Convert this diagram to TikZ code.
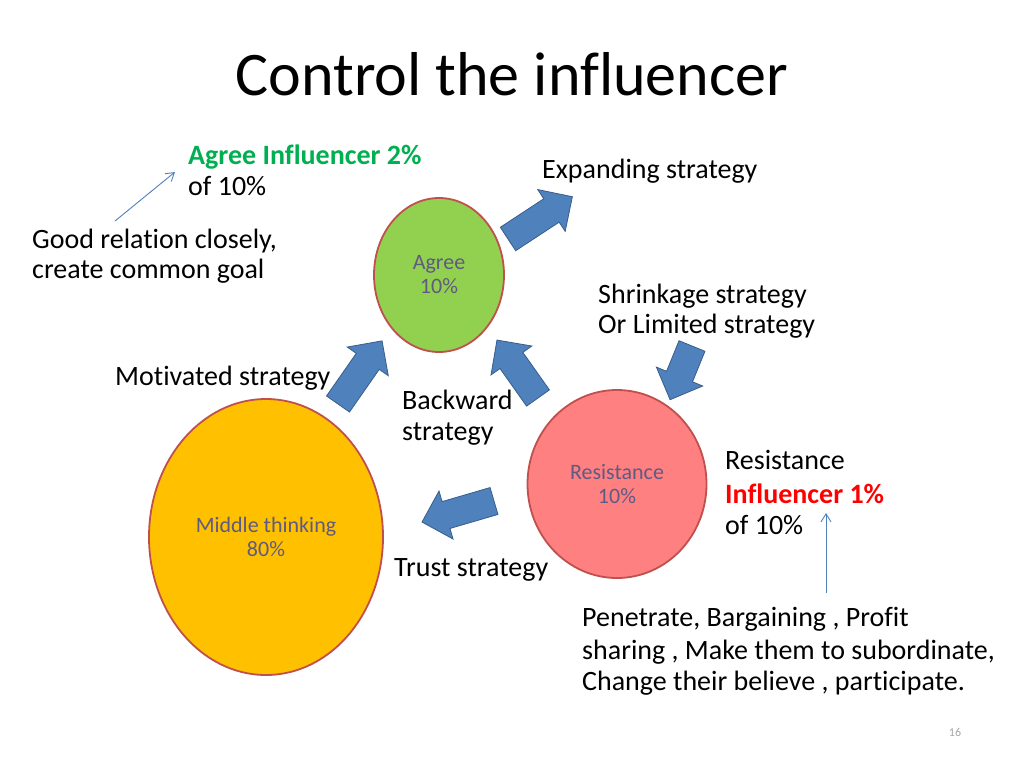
\documentclass[tikz,border=0pt]{standalone}
\usepackage{fontspec}
\setmainfont{Carlito}[Ligatures=NoCommon]
\usetikzlibrary{arrows.meta,shapes.geometric}
\definecolor{agreegreen}{HTML}{92D050}
\definecolor{resred}{HTML}{FF8080}
\definecolor{midorange}{HTML}{FFC000}
\definecolor{circborder}{HTML}{C0504D}
\definecolor{arrowblue}{HTML}{4F81BD}
\definecolor{arrowedge}{HTML}{385D8A}
\definecolor{labelgreen}{HTML}{00B050}
\definecolor{labelred}{HTML}{FF0000}
\definecolor{innertext}{RGB}{95,90,130}
\newcommand{\fatarrow}[3]{%
  \begin{scope}[shift={(#1)},rotate=#2]
    \filldraw[fatarrowstyle] (0,-14) -- (#3-25,-14) -- (#3-25,-25) -- (#3,0)
      -- (#3-25,25) -- (#3-25,14) -- (0,14) -- cycle;
  \end{scope}}
\begin{document}
\begin{tikzpicture}[x=1pt,y=-1pt,
  circ/.style={ellipse, draw=circborder, line width=1.8pt, inner sep=0pt,
    align=center, text=innertext, font=\fontsize{22}{24}\selectfont},
  body/.style={anchor=base west, inner sep=0pt, font=\fontsize{28}{30}\selectfont},
  fatarrowstyle/.style={fill=arrowblue, draw=arrowedge, line width=0.8pt, line join=miter},
  thinarrow/.style={draw=arrowblue, line width=0.9pt, -{Straight Barb[length=8pt,width=10pt]}}]
\useasboundingbox (0,0) rectangle (1024,768);
\fill[white] (0,0) rectangle (1024,768);

% title
\node[anchor=base, inner sep=0pt, font=\fontsize{62}{70}\selectfont] (title) at (512,95) {Control the influencer};

% circles
\node[circ, fill=agreegreen, minimum width=130pt, minimum height=154pt] (agree) at (439,275) {Agree\\10\%};
\node[circ, fill=resred, minimum width=179pt, minimum height=188pt] (resist) at (617,484) {Resistance\\10\%};
\node[circ, fill=midorange, minimum width=234pt, minimum height=276pt] (middle) at (266,537) {Middle thinking\\80\%};

% fat arrows
\fatarrow{338,404}{55.1}{77}
\fatarrow{538,398}{125.3}{71}
\fatarrow{692,346}{-112.2}{58}
\fatarrow{494,501}{196.3}{75}
\fatarrow{508,239}{33.3}{77}

% labels
\node[body, text=labelgreen, font=\fontsize{28}{30}\selectfont\bfseries] (ag1) at (188,164) {Agree Influencer 2\%};
\node[body] (ag2) at (188,195) {of 10\%};
\node[body] (good1) at (32,248) {Good relation closely,};
\node[body] (good2) at (32,278) {create common goal};
\node[body] (expand) at (542,178) {Expanding strategy};
\node[body] (shrink1) at (598,303) {Shrinkage strategy};
\node[body] (shrink2) at (598,333) {Or Limited strategy};
\node[body] (motiv) at (115,385) {Motivated strategy};
\node[body] (back1) at (402,409) {Backward};
\node[body] (back2) at (402,440) {strategy};
\node[body] (res1) at (725,469) {Resistance};
\node[body, text=labelred, font=\fontsize{28}{30}\selectfont\bfseries] (res2) at (725,503) {Influencer 1\%};
\node[body] (res3) at (725,534) {of 10\%};
\node[body] (trust) at (394,576) {Trust strategy};
\node[body] (pen1) at (582,626) {Penetrate, Bargaining , Profit};
\node[body] (pen2) at (582,659) {sharing , Make them to subordinate,};
\node[body] (pen3) at (582,690) {Change their believe , participate.};
\node[anchor=center, inner sep=0pt, text=gray!70, font=\fontsize{12}{14}\selectfont] (pagenum) at (955,732) {16};

% thin arrows
\coordinate (g0) at (115,221);
\coordinate (g1) at (175,172);
\draw[thinarrow] (g0) -- (g1);
\coordinate (r0) at (826,593);
\coordinate (r1) at (826,513);
\draw[thinarrow] (r0) -- (r1);
\end{tikzpicture}
\end{document}
